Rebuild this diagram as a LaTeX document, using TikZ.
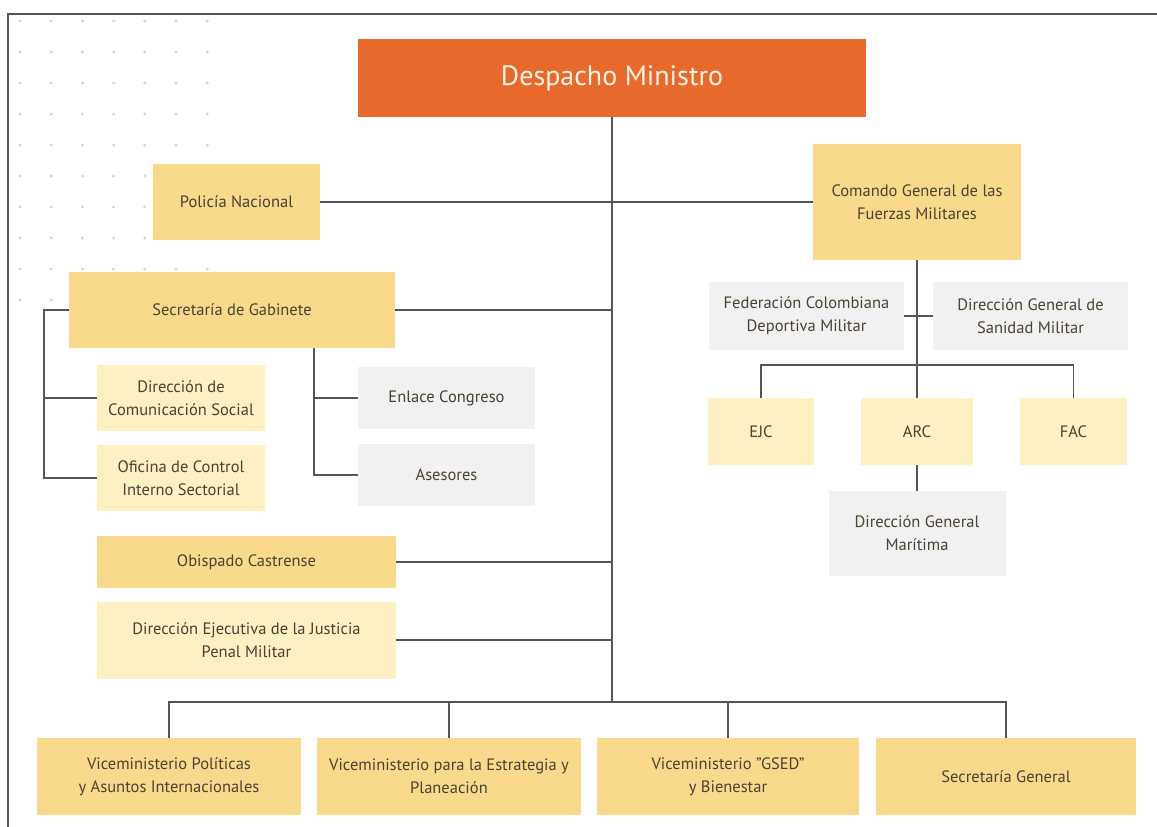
\documentclass[tikz,border=0pt]{standalone}
\usepackage{fontspec}
\setmainfont{PT Sans}
\usepackage{xcolor}
\usepackage{tikz}

\definecolor{naranja}{HTML}{E8692C}
\definecolor{amarillo}{HTML}{F9D98B}
\definecolor{claro}{HTML}{FDF0C2}
\definecolor{gris}{HTML}{F1F1F1}
\definecolor{linea}{HTML}{555555}
\definecolor{texto}{HTML}{4A4232}

\begin{document}
\begin{tikzpicture}[x=1pt, y=-1pt,
  every node/.style={inner sep=0pt, align=center, text=texto, font=\fontsize{16.5}{23}\selectfont},
  box/.style={fill=amarillo},
  soft/.style={fill=claro},
  grey/.style={fill=gris},
  conn/.style={draw=linea, line width=1.4pt}]
  \useasboundingbox (0,0) rectangle (1157,827);

  % puntos
  \foreach \i in {0,...,6}
    \foreach \j in {0,...,9}
      \fill[gray!35] (20+31.2*\i, 21+31*\j) circle (1.6pt);

  % marco
  \draw[linea, line width=2pt] (8,827) -- (8,14) -- (1157,14);

  \node[fill=naranja, minimum width=508, minimum height=78, text=white!90!orange,
        font=\fontsize{28}{32}\selectfont] (M) at (612,78) {Despacho Ministro};
  \node[box, minimum width=167, minimum height=76] (P) at (236.5,202) {Policía Nacional};
  \node[box, minimum width=208, minimum height=116] (C) at (917,202) {Comando General de las\\Fuerzas Militares};
  \node[box, minimum width=326, minimum height=76] (SG) at (232,310) {Secretaría de Gabinete};
  \node[soft, minimum width=168, minimum height=66] (DC) at (181,398) {Dirección de\\Comunicación Social};
  \node[soft, minimum width=168, minimum height=66] (OC) at (181,478) {Oficina de Control\\Interno Sectorial};
  \node[grey, minimum width=177, minimum height=62] (EC) at (446.5,398) {Enlace Congreso};
  \node[grey, minimum width=177, minimum height=62] (AS) at (446.5,475) {Asesores};
  \node[box, minimum width=299, minimum height=52] (OB) at (246.5,562) {Obispado Castrense};
  \node[soft, minimum width=299, minimum height=77] (DE) at (246.5,640) {Dirección Ejecutiva de la Justicia\\Penal Militar};

  \node[grey, minimum width=195, minimum height=68] (FC) at (806.5,316) {Federación Colombiana\\Deportiva Militar};
  \node[grey, minimum width=195, minimum height=68] (DS) at (1030.5,316) {Dirección General de\\Sanidad Militar};
  \node[soft, minimum width=106, minimum height=67] (EJC) at (761,431.5) {EJC};
  \node[soft, minimum width=112, minimum height=67] (ARC) at (917,431.5) {ARC};
  \node[soft, minimum width=107, minimum height=67] (FAC) at (1073.5,431.5) {FAC};
  \node[grey, minimum width=177, minimum height=85] (DM) at (917,533.5) {Dirección General\\Marítima};

  \node[box, minimum width=264, minimum height=77] (V1) at (169,776.5) {Viceministerio Políticas\\y Asuntos Internacionales};
  \node[box, minimum width=264, minimum height=77] (V2) at (449,776.5) {Viceministerio para la Estrategia y\\Planeación};
  \node[box, minimum width=262, minimum height=77] (V3) at (728,776.5) {Viceministerio "GSED"\\y Bienestar};
  \node[box, minimum width=260, minimum height=77] (V4) at (1006,776.5) {Secretaría General};

  \coordinate (bus) at (612,702);
  \coordinate (lb) at (44,310);
  \coordinate (rb) at (314,348);
  \coordinate (cb) at (917,365);

  \draw[conn] (M.south) -- (bus);
  \draw[conn] (P.east) -- (C.west);
  \draw[conn] (SG.east) -- (SG.east -| bus);
  \draw[conn] (OB.east) -- (OB.east -| bus);
  \draw[conn] (DE.east) -- (DE.east -| bus);
  \draw[conn] (V1.north) |- (bus) -| (V4.north);
  \draw[conn] (V2.north) -- (V2.north |- bus);
  \draw[conn] (V3.north) -- (V3.north |- bus);

  \draw[conn] (SG.west) -- (lb) |- (OC.west);
  \draw[conn] (DC.west) -- (DC.west -| lb);
  \draw[conn] (rb) |- (AS.west);
  \draw[conn] (EC.west) -- (EC.west -| rb);

  \draw[conn] (C.south) -- (ARC.north);
  \draw[conn] (FC.east) -- (DS.west);
  \draw[conn] (EJC.north) |- (cb) -| (FAC.north);
  \draw[conn] (ARC.south) -- (DM.north);
\end{tikzpicture}
\end{document}
